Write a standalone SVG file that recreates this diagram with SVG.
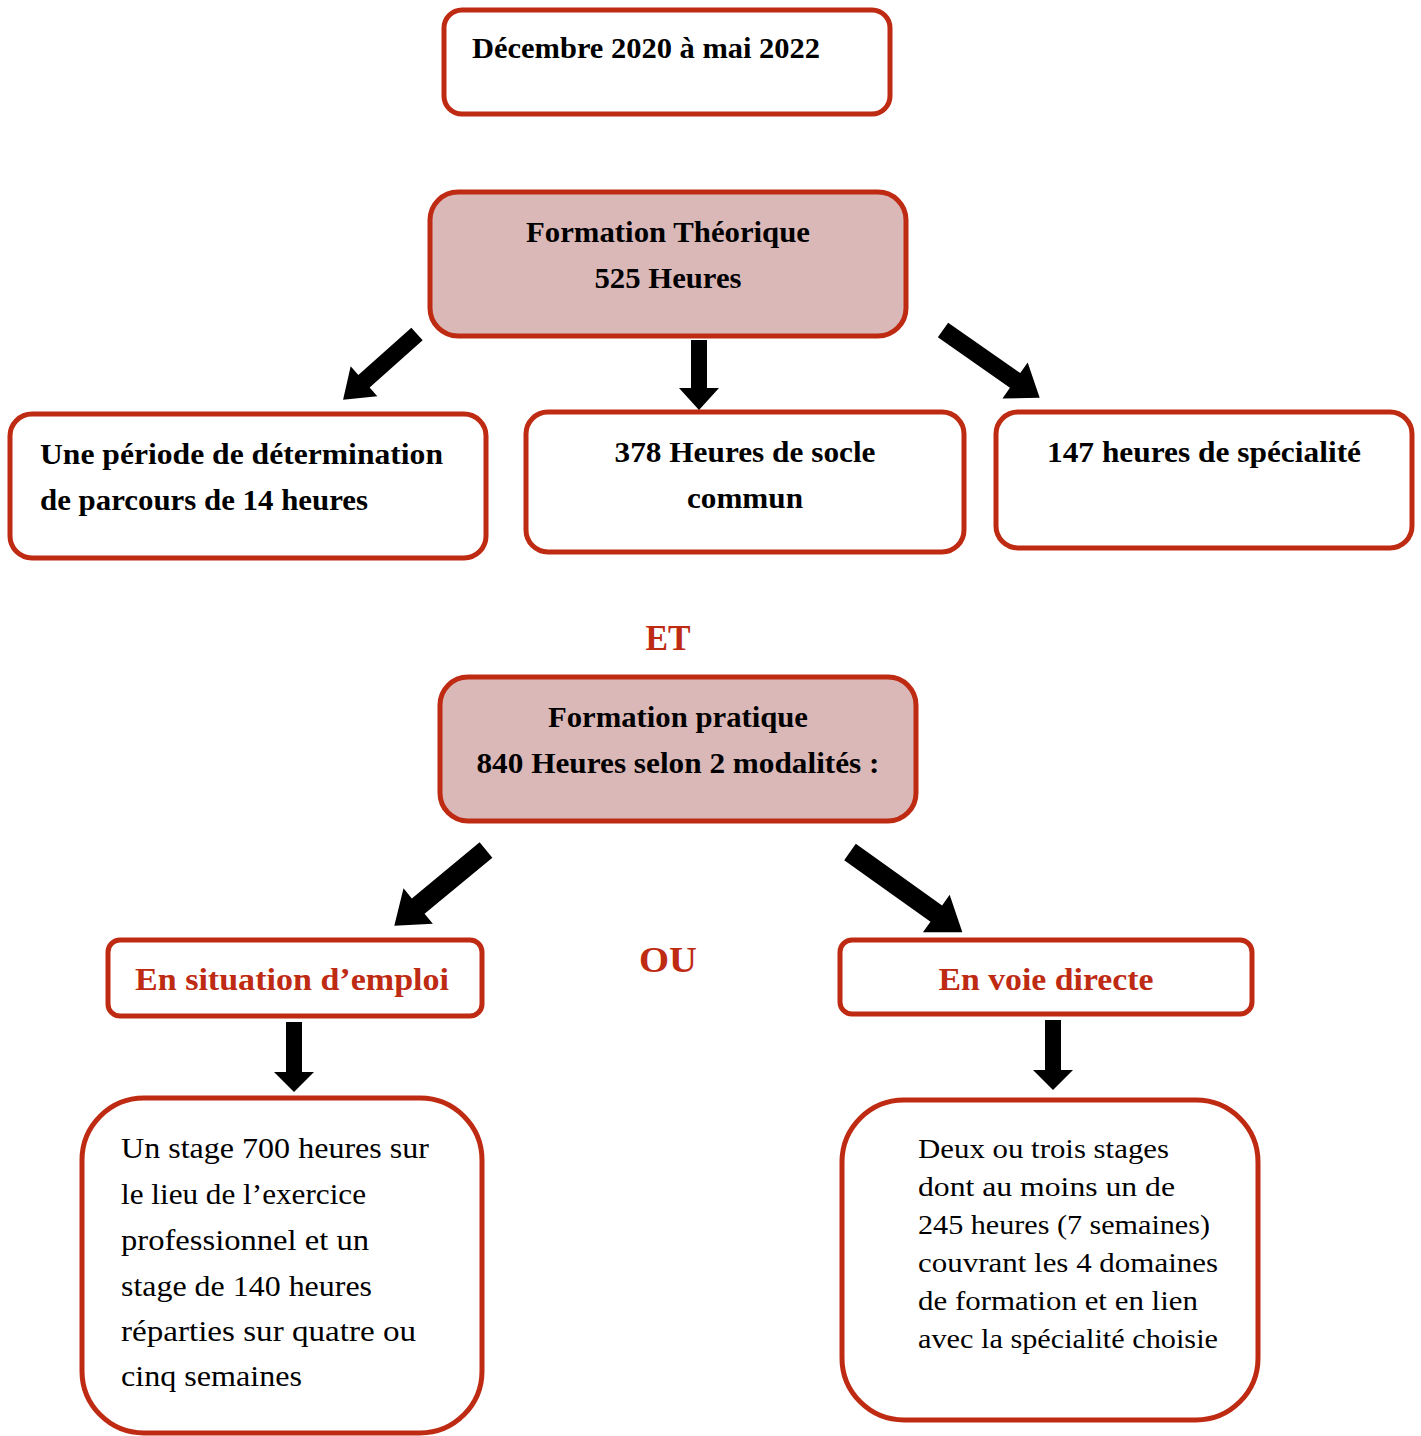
<svg xmlns="http://www.w3.org/2000/svg" width="1421" height="1436" viewBox="0 0 1421 1436">
<style>
.box{fill:#fff;stroke:#BE2A12;stroke-width:5}
.pink{fill:#DBB8B8}
.t{font-family:"Liberation Serif","Times New Roman",serif;font-weight:bold;font-size:30px;fill:#000}
.r{fill:#BE2A12}
.n{font-family:"Liberation Serif","Times New Roman",serif;font-size:30px;fill:#000}
.s{font-size:28px}
.m{text-anchor:middle}
.arr{fill:#000}
</style>
<rect width="1421" height="1436" fill="#fff"/>
<g id="date">
<rect class="box" x="444" y="10" width="446" height="104" rx="18"/>
<text class="t" x="472" y="58" textLength="348" lengthAdjust="spacingAndGlyphs">Décembre 2020 à mai 2022</text>
</g>
<g id="theorique">
<rect class="box pink" x="430" y="192" width="476" height="144" rx="28"/>
<text class="t m" x="668" y="242" textLength="284" lengthAdjust="spacingAndGlyphs">Formation Théorique</text>
<text class="t m" x="668" y="288" textLength="147" lengthAdjust="spacingAndGlyphs">525 Heures</text>
</g>
<g id="determination">
<rect class="box" x="10" y="414" width="476" height="144" rx="22"/>
<text class="t" x="40" y="464" textLength="403" lengthAdjust="spacingAndGlyphs">Une période de détermination</text>
<text class="t" x="40" y="510" textLength="328" lengthAdjust="spacingAndGlyphs">de parcours de 14 heures</text>
</g>
<g id="socle">
<rect class="box" x="526" y="412" width="438" height="140" rx="22"/>
<text class="t m" x="745" y="462" textLength="261" lengthAdjust="spacingAndGlyphs">378 Heures de socle</text>
<text class="t m" x="745" y="508" textLength="116" lengthAdjust="spacingAndGlyphs">commun</text>
</g>
<g id="specialite">
<rect class="box" x="996" y="412" width="416" height="136" rx="22"/>
<text class="t m" x="1204" y="462" textLength="314" lengthAdjust="spacingAndGlyphs">147 heures de spécialité</text>
</g>
<g id="et">
<text class="t r m" x="668" y="650" style="font-size:35px" textLength="45" lengthAdjust="spacingAndGlyphs">ET</text>
</g>
<g id="pratique">
<rect class="box pink" x="440" y="677" width="476" height="144" rx="28"/>
<text class="t m" x="678" y="727" textLength="260" lengthAdjust="spacingAndGlyphs">Formation pratique</text>
<text class="t m" x="678" y="773" textLength="403" lengthAdjust="spacingAndGlyphs">840 Heures selon 2 modalités :</text>
</g>
<g id="ou">
<text class="t r m" x="668" y="972" style="font-size:35px" textLength="58" lengthAdjust="spacingAndGlyphs">OU</text>
</g>
<g id="emploi">
<rect class="box" x="108" y="940" width="374" height="76" rx="12"/>
<text class="t r m" x="292" y="990" style="font-size:31px" textLength="314" lengthAdjust="spacingAndGlyphs">En situation d’emploi</text>
</g>
<g id="directe">
<rect class="box" x="840" y="940" width="412" height="74" rx="12"/>
<text class="t r m" x="1046" y="990" style="font-size:31px" textLength="215" lengthAdjust="spacingAndGlyphs">En voie directe</text>
</g>
<g id="stage-emploi">
<rect class="box" x="82" y="1098" width="400" height="335" rx="62"/>
<text class="n" x="121" y="1158" textLength="308" lengthAdjust="spacingAndGlyphs">Un stage 700 heures sur</text>
<text class="n" x="121" y="1204" textLength="245" lengthAdjust="spacingAndGlyphs">le lieu de l’exercice</text>
<text class="n" x="121" y="1250" textLength="248" lengthAdjust="spacingAndGlyphs">professionnel et un</text>
<text class="n" x="121" y="1296" textLength="251" lengthAdjust="spacingAndGlyphs">stage de 140 heures</text>
<text class="n" x="121" y="1341" textLength="295" lengthAdjust="spacingAndGlyphs">réparties sur quatre ou</text>
<text class="n" x="121" y="1386" textLength="181" lengthAdjust="spacingAndGlyphs">cinq semaines</text>
</g>
<g id="stage-directe">
<rect class="box" x="842" y="1100" width="416" height="320" rx="62"/>
<text class="n s" x="918" y="1158" textLength="251" lengthAdjust="spacingAndGlyphs">Deux ou trois stages</text>
<text class="n s" x="918" y="1196" textLength="257" lengthAdjust="spacingAndGlyphs">dont au moins un de</text>
<text class="n s" x="918" y="1234" textLength="292" lengthAdjust="spacingAndGlyphs">245 heures (7 semaines)</text>
<text class="n s" x="918" y="1272" textLength="300" lengthAdjust="spacingAndGlyphs">couvrant les 4 domaines</text>
<text class="n s" x="918" y="1310" textLength="280" lengthAdjust="spacingAndGlyphs">de formation et en lien</text>
<text class="n s" x="918" y="1348" textLength="300" lengthAdjust="spacingAndGlyphs">avec la spécialité choisie</text>
</g>
<g id="connectors">
<polygon class="arr" transform="translate(417,334) rotate(138.3)" points="0,-8.5 71,-8.5 71,-20 99,0 71,20 71,8.5 0,8.5"/>
<polygon class="arr" points="691,340 707,340 707,388 719,388 699,410 679,388 691,388"/>
<polygon class="arr" transform="translate(943,330) rotate(35)" points="0,-9 88,-9 88,-22 118,0 88,22 88,9 0,9"/>
<polygon class="arr" transform="translate(486,850) rotate(140.4)" points="0,-10 88,-10 88,-23 119,0 88,23 88,10 0,10"/>
<polygon class="arr" transform="translate(850,852) rotate(35.5)" points="0,-10 106,-10 106,-23 138,0 106,23 106,10 0,10"/>
<polygon class="arr" points="286,1022 302,1022 302,1072 314,1072 294,1092 274,1072 286,1072"/>
<polygon class="arr" points="1045,1020 1061,1020 1061,1070 1073,1070 1053,1090 1033,1070 1045,1070"/>
</g>
</svg>
